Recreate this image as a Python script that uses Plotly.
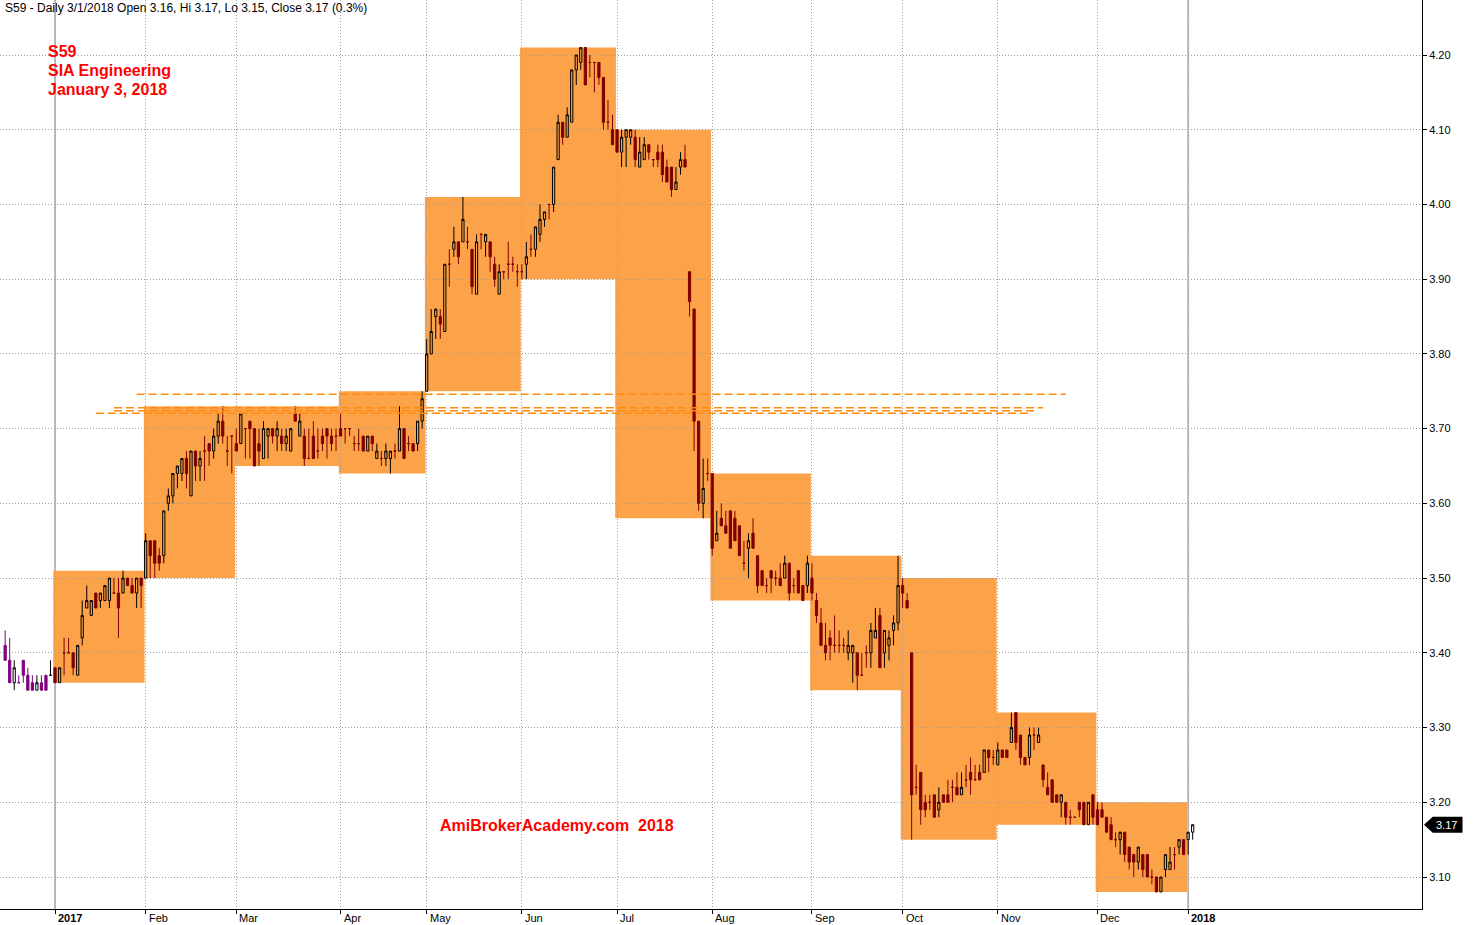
import plotly.graph_objects as go

# ---------------- data ----------------
period_labels = ["Dec 2016", "2017", "Feb", "Mar", "Apr", "May", "Jun", "Jul",
                 "Aug", "Sep", "Oct", "Nov", "Dec", "2018"]
bars_per_period = [11, 20, 20, 23, 19, 21, 21, 21, 22, 20, 21, 22, 20, 2]

open_ = [
    # Dec 2016
    3.41, 3.39, 3.36, 3.36, 3.39, 3.37, 3.36, 3.35, 3.36, 3.37, 3.37,
    # Jan
    3.38, 3.36, 3.40, 3.40, 3.40, 3.37, 3.42, 3.46, 3.45, 3.48,
    3.47, 3.47, 3.47, 3.48, 3.48, 3.48, 3.50, 3.49, 3.48, 3.50,
    # Feb
    3.50, 3.55, 3.55, 3.53, 3.53, 3.60, 3.61, 3.64, 3.64, 3.66,
    3.61, 3.67, 3.65, 3.67, 3.68, 3.67, 3.69, 3.71, 3.67, 3.69,
    # Mar
    3.68, 3.68, 3.70, 3.71, 3.70, 3.68, 3.66, 3.69, 3.70, 3.69, 3.69, 3.68,
    3.67, 3.72, 3.69, 3.69, 3.66, 3.69, 3.67, 3.69, 3.70, 3.69, 3.69,
    # Apr
    3.70, 3.70, 3.70, 3.68, 3.68, 3.69, 3.67, 3.69, 3.66, 3.66,
    3.66, 3.66, 3.67, 3.67, 3.70, 3.68, 3.68, 3.68, 3.71,
    # May
    3.75, 3.80, 3.85, 3.85, 3.83, 3.92, 3.94, 3.95, 3.95, 3.95, 3.94,
    3.88, 3.96, 3.95, 3.95, 3.92, 3.88, 3.91, 3.92, 3.92, 3.91,
    # Jun
    3.91, 3.92, 3.94, 3.94, 3.96, 3.98, 4.00, 4.00, 4.06, 4.11, 4.09,
    4.11, 4.18, 4.19, 4.21, 4.19, 4.19, 4.19, 4.17, 4.11, 4.10,
    # Jul
    4.10, 4.07, 4.09, 4.09, 4.09, 4.05, 4.06, 4.08, 4.06, 4.07, 4.07,
    4.05, 4.05, 4.02, 4.05, 4.06, 3.91, 3.86, 3.71, 3.60, 3.64,
    # Aug
    3.64, 3.55, 3.58, 3.57, 3.59, 3.58, 3.57, 3.52, 3.54, 3.56, 3.53,
    3.51, 3.49, 3.51, 3.50, 3.50, 3.50, 3.52, 3.49, 3.51, 3.49, 3.49,
    # Sep
    3.50, 3.47, 3.44, 3.41, 3.42, 3.41, 3.41, 3.41, 3.40, 3.40,
    3.40, 3.37, 3.40, 3.40, 3.42, 3.45, 3.40, 3.41, 3.43, 3.44,
    # Oct
    3.49, 3.47, 3.40, 3.22, 3.24, 3.20, 3.20, 3.21, 3.19, 3.21, 3.21,
    3.22, 3.22, 3.21, 3.23, 3.24, 3.23, 3.24, 3.24, 3.27, 3.26,
    # Nov
    3.25, 3.27, 3.27, 3.28, 3.32, 3.29, 3.26, 3.26, 3.29, 3.28, 3.25,
    3.22, 3.23, 3.21, 3.20, 3.20, 3.18, 3.18, 3.20, 3.20, 3.17, 3.21,
    # Dec
    3.19, 3.19, 3.18, 3.17, 3.15, 3.15, 3.16, 3.14, 3.13, 3.12,
    3.13, 3.13, 3.10, 3.10, 3.08, 3.11, 3.11, 3.13, 3.14, 3.15,
    # Jan 2018
    3.15, 3.16,
]
high = [
    3.43, 3.42, 3.39, 3.37, 3.39, 3.38, 3.37, 3.37, 3.37, 3.37, 3.39,
    3.38, 3.38, 3.42, 3.42, 3.40, 3.41, 3.47, 3.49, 3.47, 3.48,
    3.48, 3.49, 3.50, 3.50, 3.50, 3.51, 3.50, 3.50, 3.50, 3.50,
    3.56, 3.55, 3.55, 3.54, 3.59, 3.62, 3.64, 3.65, 3.66, 3.67,
    3.67, 3.67, 3.67, 3.69, 3.68, 3.70, 3.72, 3.73, 3.69, 3.69,
    3.70, 3.72, 3.70, 3.71, 3.70, 3.70, 3.71, 3.70, 3.70, 3.71, 3.70, 3.70,
    3.70, 3.73, 3.72, 3.70, 3.70, 3.71, 3.70, 3.70, 3.70, 3.70, 3.70,
    3.72, 3.70, 3.70, 3.69, 3.70, 3.69, 3.69, 3.69, 3.68, 3.67,
    3.68, 3.67, 3.68, 3.73, 3.70, 3.69, 3.68, 3.71, 3.75,
    3.82, 3.86, 3.86, 3.86, 3.92, 3.94, 3.97, 3.95, 4.01, 3.97, 3.94,
    3.96, 3.96, 3.96, 3.95, 3.93, 3.92, 3.91, 3.95, 3.93, 3.92,
    3.92, 3.95, 3.96, 3.97, 4.00, 3.99, 4.00, 4.05, 4.12, 4.11, 4.13,
    4.18, 4.20, 4.21, 4.21, 4.20, 4.19, 4.19, 4.17, 4.14, 4.12,
    4.10, 4.10, 4.10, 4.10, 4.10, 4.09, 4.09, 4.08, 4.06, 4.08, 4.08,
    4.06, 4.05, 4.05, 4.07, 4.08, 3.91, 3.86, 3.71, 3.66, 3.66,
    3.64, 3.59, 3.60, 3.59, 3.59, 3.59, 3.57, 3.55, 3.56, 3.58, 3.53,
    3.51, 3.50, 3.51, 3.51, 3.52, 3.53, 3.52, 3.50, 3.51, 3.49, 3.53,
    3.52, 3.48, 3.46, 3.44, 3.43, 3.45, 3.43, 3.42, 3.43, 3.41,
    3.40, 3.40, 3.41, 3.44, 3.46, 3.46, 3.43, 3.43, 3.45, 3.53,
    3.50, 3.48, 3.40, 3.25, 3.24, 3.21, 3.21, 3.21, 3.22, 3.21, 3.23,
    3.23, 3.24, 3.24, 3.25, 3.26, 3.25, 3.25, 3.27, 3.27, 3.27,
    3.28, 3.27, 3.27, 3.32, 3.32, 3.29, 3.26, 3.30, 3.30, 3.30, 3.25,
    3.24, 3.23, 3.21, 3.21, 3.20, 3.19, 3.18, 3.20, 3.20, 3.20, 3.21,
    3.20, 3.20, 3.18, 3.18, 3.16, 3.16, 3.16, 3.14, 3.13, 3.14,
    3.13, 3.13, 3.11, 3.10, 3.10, 3.13, 3.14, 3.14, 3.15, 3.15,
    3.16, 3.17,
]
low = [
    3.39, 3.36, 3.35, 3.36, 3.36, 3.35, 3.35, 3.35, 3.35, 3.35, 3.37,
    3.36, 3.36, 3.37, 3.40, 3.37, 3.37, 3.41, 3.46, 3.45, 3.46,
    3.46, 3.47, 3.46, 3.48, 3.42, 3.48, 3.49, 3.48, 3.46, 3.46,
    3.50, 3.50, 3.50, 3.51, 3.52, 3.59, 3.60, 3.62, 3.63, 3.62,
    3.61, 3.63, 3.63, 3.63, 3.65, 3.66, 3.68, 3.68, 3.65, 3.64,
    3.67, 3.68, 3.66, 3.66, 3.65, 3.65, 3.66, 3.66, 3.68, 3.67, 3.67, 3.67,
    3.67, 3.71, 3.69, 3.65, 3.66, 3.66, 3.66, 3.67, 3.66, 3.67, 3.67,
    3.69, 3.68, 3.69, 3.67, 3.67, 3.67, 3.67, 3.67, 3.66, 3.65,
    3.65, 3.64, 3.66, 3.67, 3.66, 3.67, 3.67, 3.67, 3.70,
    3.75, 3.80, 3.82, 3.82, 3.83, 3.89, 3.93, 3.92, 3.95, 3.94, 3.88,
    3.88, 3.94, 3.93, 3.91, 3.89, 3.88, 3.90, 3.90, 3.91, 3.89,
    3.90, 3.90, 3.93, 3.93, 3.95, 3.97, 3.98, 3.99, 4.06, 4.08, 4.09,
    4.11, 4.16, 4.18, 4.16, 4.17, 4.15, 4.16, 4.10, 4.10, 4.08,
    4.07, 4.05, 4.05, 4.08, 4.05, 4.05, 4.06, 4.06, 4.05, 4.05, 4.03,
    4.03, 4.01, 4.02, 4.04, 4.05, 3.85, 3.67, 3.59, 3.58, 3.63,
    3.53, 3.55, 3.57, 3.56, 3.54, 3.55, 3.53, 3.51, 3.50, 3.54, 3.48,
    3.49, 3.48, 3.48, 3.49, 3.49, 3.50, 3.47, 3.48, 3.48, 3.47, 3.48,
    3.47, 3.44, 3.41, 3.39, 3.39, 3.40, 3.40, 3.40, 3.39, 3.36,
    3.35, 3.37, 3.38, 3.38, 3.42, 3.38, 3.38, 3.39, 3.41, 3.43,
    3.46, 3.46, 3.15, 3.21, 3.17, 3.18, 3.19, 3.18, 3.18, 3.20, 3.20,
    3.20, 3.21, 3.21, 3.22, 3.21, 3.23, 3.23, 3.24, 3.24, 3.25,
    3.25, 3.26, 3.26, 3.28, 3.27, 3.25, 3.25, 3.25, 3.27, 3.28, 3.22,
    3.21, 3.20, 3.20, 3.18, 3.17, 3.17, 3.18, 3.18, 3.17, 3.17, 3.17,
    3.17, 3.18, 3.16, 3.15, 3.14, 3.13, 3.12, 3.11, 3.10, 3.11,
    3.10, 3.10, 3.09, 3.08, 3.08, 3.10, 3.11, 3.11, 3.13, 3.13,
    3.13, 3.15,
]
close = [
    3.39, 3.36, 3.38, 3.36, 3.37, 3.35, 3.35, 3.36, 3.35, 3.35, 3.37,
    3.36, 3.38, 3.40, 3.40, 3.38, 3.41, 3.45, 3.47, 3.47, 3.46,
    3.48, 3.49, 3.50, 3.48, 3.46, 3.50, 3.49, 3.48, 3.50, 3.49,
    3.55, 3.53, 3.52, 3.52, 3.59, 3.61, 3.64, 3.65, 3.66, 3.64,
    3.67, 3.65, 3.66, 3.67, 3.67, 3.69, 3.71, 3.69, 3.67, 3.69,
    3.67, 3.72, 3.70, 3.70, 3.65, 3.67, 3.70, 3.70, 3.69, 3.70, 3.68, 3.69,
    3.70, 3.71, 3.71, 3.66, 3.66, 3.66, 3.67, 3.68, 3.69, 3.68, 3.69,
    3.69, 3.70, 3.70, 3.68, 3.68, 3.67, 3.69, 3.68, 3.67, 3.66,
    3.67, 3.67, 3.67, 3.70, 3.66, 3.68, 3.67, 3.71, 3.74,
    3.80, 3.83, 3.86, 3.84, 3.92, 3.92, 3.95, 3.93, 3.98, 3.95, 3.89,
    3.95, 3.96, 3.96, 3.93, 3.90, 3.91, 3.91, 3.92, 3.92, 3.91,
    3.91, 3.93, 3.94, 3.97, 3.98, 3.99, 4.00, 4.05, 4.11, 4.09, 4.12,
    4.18, 4.20, 4.21, 4.16, 4.19, 4.19, 4.17, 4.11, 4.11, 4.08,
    4.07, 4.09, 4.10, 4.10, 4.06, 4.07, 4.08, 4.07, 4.06, 4.06, 4.04,
    4.03, 4.02, 4.03, 4.06, 4.05, 3.87, 3.71, 3.60, 3.62, 3.64,
    3.54, 3.56, 3.57, 3.56, 3.54, 3.55, 3.53, 3.52, 3.55, 3.54, 3.49,
    3.49, 3.49, 3.50, 3.50, 3.49, 3.52, 3.48, 3.49, 3.48, 3.47, 3.52,
    3.48, 3.45, 3.41, 3.40, 3.41, 3.41, 3.41, 3.41, 3.41, 3.41,
    3.37, 3.37, 3.40, 3.43, 3.43, 3.38, 3.43, 3.42, 3.44, 3.49,
    3.48, 3.46, 3.21, 3.22, 3.19, 3.19, 3.20, 3.18, 3.20, 3.20, 3.20,
    3.22, 3.21, 3.22, 3.23, 3.23, 3.23, 3.23, 3.27, 3.26, 3.26,
    3.27, 3.26, 3.26, 3.30, 3.28, 3.26, 3.25, 3.29, 3.29, 3.29, 3.23,
    3.21, 3.20, 3.20, 3.21, 3.18, 3.18, 3.18, 3.19, 3.17, 3.20, 3.18,
    3.17, 3.18, 3.16, 3.15, 3.15, 3.16, 3.13, 3.12, 3.12, 3.14,
    3.11, 3.10, 3.10, 3.08, 3.10, 3.13, 3.12, 3.13, 3.15, 3.13,
    3.16, 3.17,
]

# horizontal dashed levels: price, first bar, last bar
level_prices = [3.746, 3.728, 3.724, 3.7205]
level_first_bar = [29, 24, 24, 20]
level_last_bar = [234, 229, 227, 226]

title_text = "S59 - Daily 3/1/2018 Open 3.16, Hi 3.17, Lo 3.15, Close 3.17 (0.3%)"
label_lines = ["S59", "SIA Engineering", "January 3, 2018"]
watermark = "AmiBrokerAcademy.com\u00a0\u00a02018"
last_price = 3.17

# ---------------- derived ----------------
FONT = "Liberation Sans, Arial, sans-serif"
BOX = "#FCA248"
DOWN = "#800000"
PURPLE = "#800080"
GRID = "#A0A0A0"

n = len(close)
starts = []
s = 0
for c in bars_per_period:
    starts.append(s)
    s += c

fig = go.Figure()


def add_candles(idx, inc_line, inc_fill, dec_line, dec_fill):
    if not idx:
        return
    fig.add_trace(go.Candlestick(
        x=idx,
        open=[open_[i] for i in idx], high=[high[i] for i in idx],
        low=[low[i] for i in idx], close=[close[i] for i in idx],
        increasing=dict(line=dict(color=inc_line, width=1), fillcolor=inc_fill),
        decreasing=dict(line=dict(color=dec_line, width=1), fillcolor=dec_fill),
        whiskerwidth=0, showlegend=False, hoverinfo="skip"))


pre = [i for i in range(starts[1])]
rest = [i for i in range(starts[1], n)]
add_candles(pre, "#000000", "#FFFFFF", PURPLE, PURPLE)
add_candles([i for i in rest if close[i] != open_[i]], "#000000", "rgba(0,0,0,0)", DOWN, DOWN)
add_candles([i for i in rest if close[i] == open_[i]], DOWN, DOWN, DOWN, DOWN)

shapes = []
# monthly range boxes for 2017
for k in range(1, 13):
    a = starts[k]
    b = starts[k] + bars_per_period[k] - 1
    shapes.append(dict(type="rect", xref="x", yref="y", layer="below",
                       x0=a - 0.4, x1=b + 0.75,
                       y0=min(low[a:b + 1]), y1=max(high[a:b + 1]),
                       fillcolor=BOX, line=dict(width=0)))
# year separators
for k in (1, 13):
    shapes.append(dict(type="line", xref="x", yref="paper", layer="below",
                       x0=starts[k], x1=starts[k], y0=0, y1=1,
                       line=dict(color="#BDBDBD", width=2)))
# dashed levels
for p, a, b in zip(level_prices, level_first_bar, level_last_bar):
    shapes.append(dict(type="line", xref="x", yref="y", layer="above",
                       x0=a, x1=b, y0=p, y1=p,
                       line=dict(color="#FF8A10", width=1.6, dash="8px,4px")))
# last price tag
half = 0.0107
shapes.append(dict(type="path", xref="paper", yref="y", layer="above",
                   path=f"M 1.0014,{last_price} L 1.0075,{last_price + half} "
                        f"L 1.0285,{last_price + half} L 1.0285,{last_price - half} "
                        f"L 1.0075,{last_price - half} Z",
                   fillcolor="#000000", line=dict(width=0)))

annotations = []
for k in range(1, len(period_labels)):
    lab = period_labels[k]
    txt = f"<b>{lab}</b>" if k in (1, 13) else lab
    annotations.append(dict(x=starts[k], y=0, xref="x", yref="paper",
                            text=txt, showarrow=False, xanchor="left", yanchor="top",
                            xshift=1, yshift=-1,
                            font=dict(family=FONT, size=11, color="#000000")))
annotations.append(dict(x=1.0175, y=last_price, xref="paper", yref="y",
                        text=f"{last_price:.2f}", showarrow=False,
                        xanchor="center", yanchor="middle",
                        font=dict(family=FONT, size=11, color="#FFFFFF")))
annotations.append(dict(x=0.0021, y=0.9912, xref="paper", yref="paper",
                        text=title_text, showarrow=False, xanchor="left",
                        yanchor="middle", font=dict(family=FONT, size=12, color="#000000")))
for j, line in enumerate(label_lines):
    annotations.append(dict(x=46 / 1422, y=(909 - 52 - 19 * j) / 909, xref="paper",
                            yref="paper", text=f"<b>{line}</b>", showarrow=False,
                            xanchor="left", yanchor="middle",
                            font=dict(family=FONT, size=16, color="#FF0000")))
annotations.append(dict(x=438 / 1422, y=(909 - 825) / 909, xref="paper", yref="paper",
                        text=f"<b>{watermark}</b>", showarrow=False, xanchor="left",
                        yanchor="middle", font=dict(family=FONT, size=16, color="#FF0000")))

fig.update_layout(
    width=1484, height=925,
    margin=dict(l=0, r=62, t=0, b=16),
    paper_bgcolor="#FFFFFF", plot_bgcolor="#FFFFFF",
    showlegend=False,
    shapes=shapes, annotations=annotations,
    font=dict(family=FONT, size=11, color="#000000"),
    xaxis=dict(range=[-1.14, 312.6], tickvals=starts[1:], showticklabels=False,
               showgrid=True, gridcolor=GRID, griddash="1px,2px", gridwidth=1,
               showline=True, linecolor="#000000", linewidth=1,
               ticks="outside", ticklen=4, tickcolor="#000000",
               zeroline=False, rangeslider=dict(visible=False), fixedrange=True),
    yaxis=dict(side="right", range=[3.0572, 4.2736], tick0=3.0, dtick=0.1,
               tickformat=".2f", showgrid=True, gridcolor=GRID, griddash="1px,2px",
               gridwidth=1, showline=True, linecolor="#000000", linewidth=1,
               ticks="outside", ticklen=4, tickcolor="#000000",
               tickfont=dict(family=FONT, size=11, color="#000000"),
               zeroline=False, fixedrange=True),
)

fig.write_html("out.html", config={"displayModeBar": False},
               post_script="document.body.style.margin='0';")
